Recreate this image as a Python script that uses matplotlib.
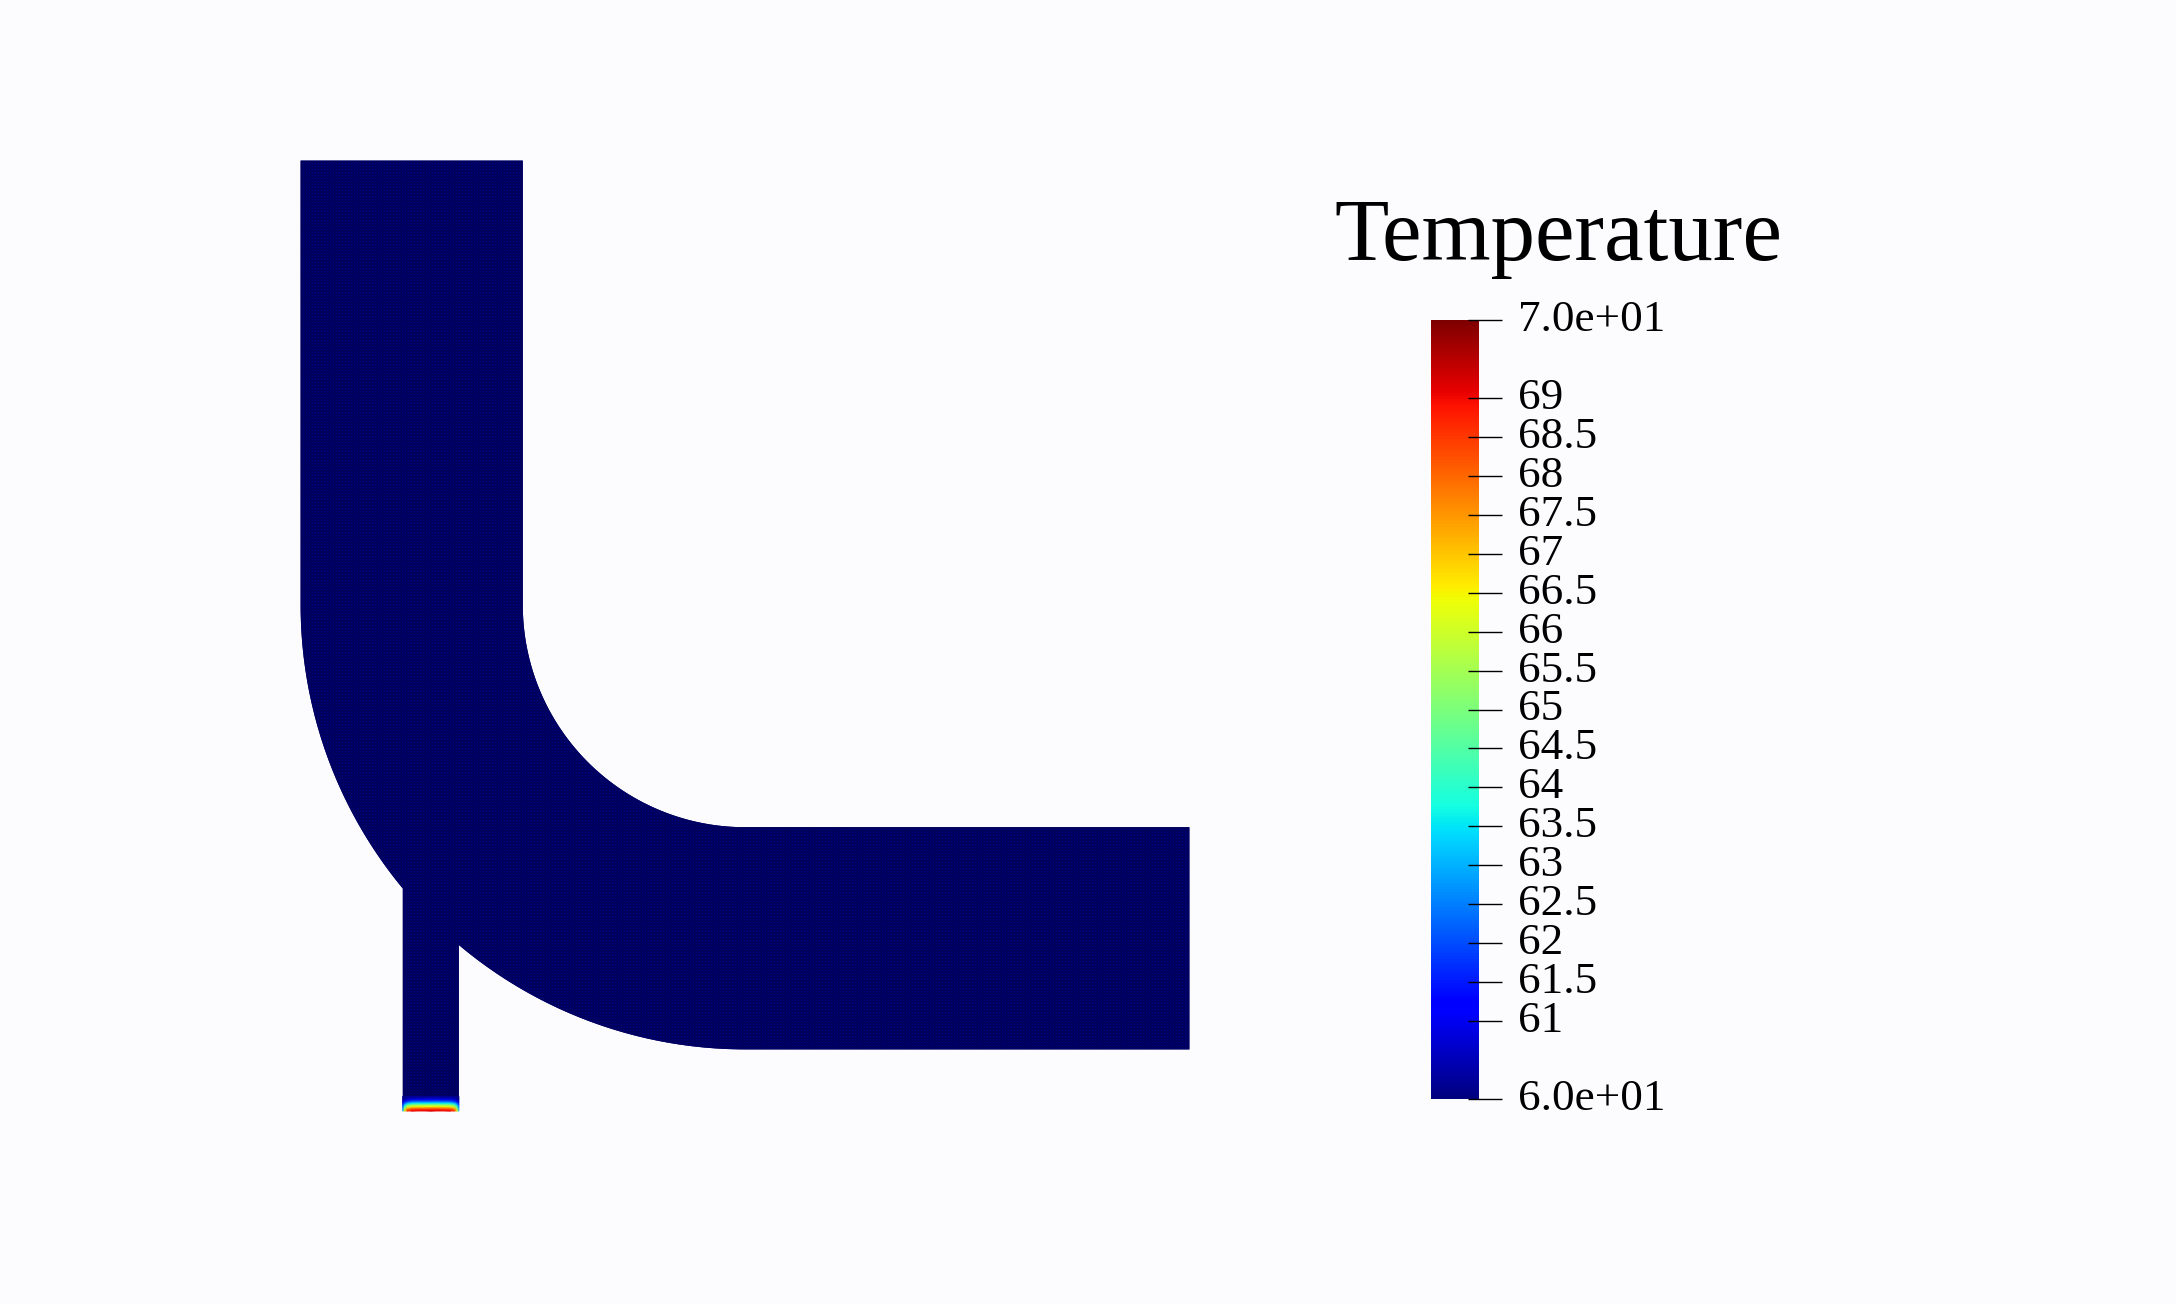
import matplotlib
matplotlib.use("Agg")
import matplotlib.pyplot as plt
import numpy as np
from matplotlib.path import Path
from matplotlib.patches import PathPatch
from matplotlib.colors import ListedColormap

# 温度の範囲とカラーバーの目盛
t_min = 60.0
t_max = 70.0
tick_values = [60, 61, 61.5, 62, 62.5, 63, 63.5, 64, 64.5, 65, 65.5, 66,
               66.5, 67, 67.5, 68, 68.5, 69, 70]
tick_labels = ["6.0e+01", "61", "61.5", "62", "62.5", "63", "63.5", "64", "64.5",
               "65", "65.5", "66", "66.5", "67", "67.5", "68", "68.5", "69", "7.0e+01"]

# 配管の形状
r_inner = 100.0
r_outer = 200.0
pipe_end = 200.0
inlet_left = -154.0
inlet_right = -128.8
inlet_bottom = -227.7

# 入口付近の温度 (下端からの距離 / 幅方向)
hot_height = [0.0, 0.7, 1.4, 2.2, 3.0, 3.7, 4.5, 5.4, 6.6]
hot_width = [0.0, 0.03, 0.08, 0.16, 0.5, 0.84, 0.92, 0.97, 1.0]
hot_temp = [
    [63.0, 66.0, 68.5, 69.0, 69.2, 69.0, 68.5, 66.0, 63.0],
    [63.0, 66.0, 68.2, 68.7, 68.9, 68.7, 68.2, 66.0, 63.0],
    [62.6, 65.0, 67.0, 67.6, 67.8, 67.6, 67.0, 65.0, 62.6],
    [62.2, 64.0, 65.6, 66.2, 66.4, 66.2, 65.6, 64.0, 62.2],
    [61.6, 63.0, 64.2, 64.8, 65.0, 64.8, 64.2, 63.0, 61.6],
    [61.0, 62.0, 62.9, 63.4, 63.5, 63.4, 62.9, 62.0, 61.0],
    [60.4, 61.0, 61.6, 62.0, 62.1, 62.0, 61.6, 61.0, 60.4],
    [60.1, 60.3, 60.6, 60.8, 60.9, 60.8, 60.6, 60.3, 60.1],
    [60.0, 60.0, 60.0, 60.0, 60.0, 60.0, 60.0, 60.0, 60.0],
]

bg_color = "#fcfcff"
body_color = "#00005e"
mesh_color = "#000084"
text_font = "Liberation Serif"

fig = plt.figure(figsize=(21.76, 13.04), dpi=100, facecolor=bg_color)

# 1単位 = 2.222px, 原点は曲がりの中心 (745, 605)
ax = fig.add_axes([0, 0, 1, 1])
x_lo, x_hi = -745 / 2.222, (2176 - 745) / 2.222
y_lo, y_hi = -(1304 - 605) / 2.222, 605 / 2.222
ax.set_xlim(x_lo, x_hi)
ax.set_ylim(y_lo, y_hi)
ax.axis("off")

# 配管の輪郭
angle = np.linspace(np.pi, 1.5 * np.pi, 120)
outer_x = r_outer * np.cos(angle)
outer_y = r_outer * np.sin(angle)
inner_x = r_inner * np.cos(angle[::-1])
inner_y = r_inner * np.sin(angle[::-1])
left_join = np.searchsorted(outer_x, inlet_left)
right_join = np.searchsorted(outer_x, inlet_right)

xs = [-r_outer]
ys = [pipe_end]
xs += list(outer_x[:left_join])
ys += list(outer_y[:left_join])
xs += [inlet_left, inlet_left, inlet_right, inlet_right]
ys += [-np.sqrt(r_outer**2 - inlet_left**2), inlet_bottom, inlet_bottom,
       -np.sqrt(r_outer**2 - inlet_right**2)]
xs += list(outer_x[right_join:])
ys += list(outer_y[right_join:])
xs += [pipe_end, pipe_end]
ys += [-r_outer, -r_inner]
xs += list(inner_x)
ys += list(inner_y)
xs += [-r_inner, -r_outer]
ys += [pipe_end, pipe_end]
verts = np.column_stack([xs, ys])

cmap = plt.get_cmap("jet")
norm = plt.Normalize(t_min, t_max)

pipe = PathPatch(Path(verts), facecolor=body_color, edgecolor="none", zorder=1)
ax.add_patch(pipe)

# メッシュの細かい模様 (3pxごとの点)
rows, cols = np.indices((1304, 2176))
dots = ((rows % 3 == 0) & (cols % 3 == 0)).astype(float)
texture = ax.imshow(dots, cmap=ListedColormap([body_color, mesh_color]), vmin=0, vmax=1,
                    extent=[x_lo, x_hi, y_lo, y_hi], origin="lower", aspect="auto",
                    interpolation="nearest", zorder=2)
texture.set_clip_path(pipe)

# 入口の高温部
gx = inlet_left + np.array(hot_width) * (inlet_right - inlet_left)
gy = inlet_bottom + np.array(hot_height)
ax.pcolormesh(gx, gy, np.array(hot_temp), cmap=cmap, norm=norm, shading="gouraud", zorder=3)
ax.set_xlim(x_lo, x_hi)
ax.set_ylim(y_lo, y_hi)

# カラーバー
cax = fig.add_axes([1431 / 2176, 1 - 1099 / 1304, 48 / 2176, 779 / 1304])
gradient = np.linspace(t_min, t_max, 512).reshape(-1, 1)
cax.imshow(gradient, cmap=cmap, norm=norm, origin="lower", aspect="auto",
           extent=[0, 1, t_min, t_max])
cax.set_xticks([])
cax.set_yticks([])
for s in cax.spines.values():
    s.set_visible(False)
cax.hlines(tick_values, 0.77, 1.48, color="black", lw=1.0, clip_on=False)
cax.set_xlim(0, 1)
cax.set_ylim(t_min, t_max)
for v, lab in zip(tick_values, tick_labels):
    cax.text(1.81, v, lab, ha="left", va="center", fontsize=32.5,
             family=text_font, color="black", clip_on=False)

fig.text(1558 / 2176, 1 - 260 / 1304, "Temperature", ha="center", va="baseline",
         fontsize=64, family=text_font, color="black")

fig.savefig("out.png", dpi=100, facecolor=bg_color)
